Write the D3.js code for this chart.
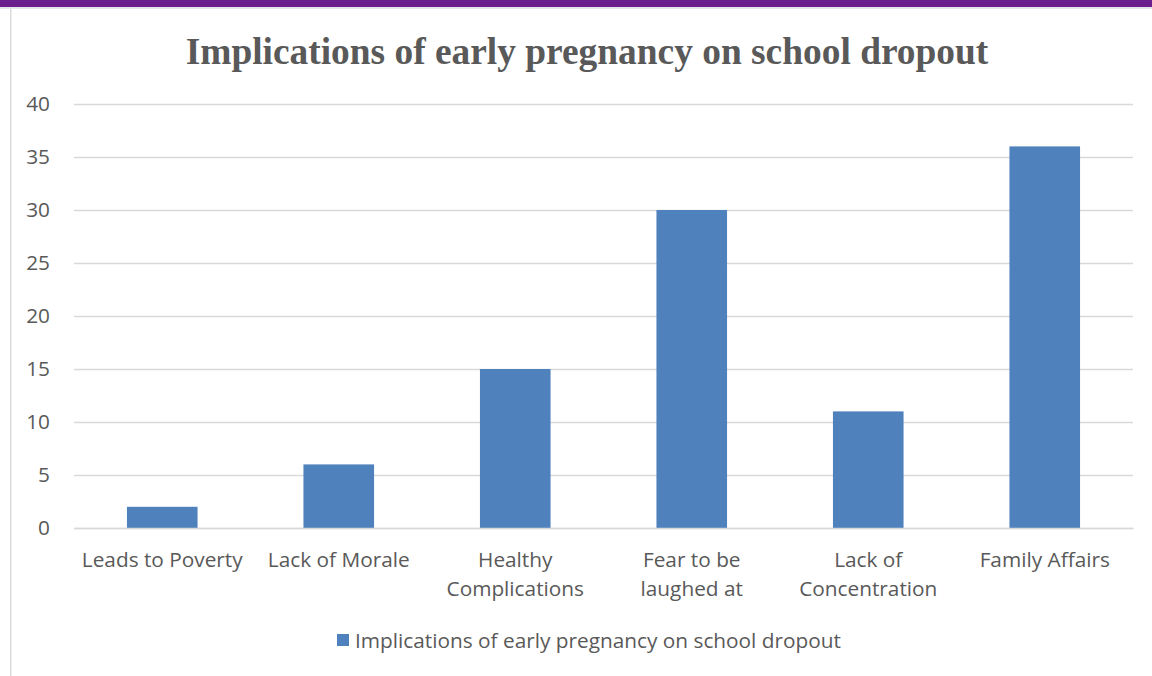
<!DOCTYPE html>
<html>
<head>
<meta charset="utf-8">
<script src="https://cdn.jsdelivr.net/npm/d3@7"></script>
<style>
  html, body { margin: 0; padding: 0; background: #fff; }
  svg { display: block; }
</style>
</head>
<body>
<svg id="chart" width="1152" height="676"></svg>
<script>
const categories = [
  ["Leads to Poverty"],
  ["Lack of Morale"],
  ["Healthy", "Complications"],
  ["Fear to be", "laughed at"],
  ["Lack of", "Concentration"],
  ["Family Affairs"]
];
const values = [2, 6, 15, 30, 11, 36];
const yTicks = [0, 5, 10, 15, 20, 25, 30, 35, 40];
const seriesName = "Implications of early pregnancy on school dropout";
const titleText = "Implications of early pregnancy on school dropout";

const svg = d3.select("#chart");
const W = 1152, H = 676;
const margin = { left: 74, right: 19, top: 104, bottom: 148 };
const textColor = "#595959";
const barColor = "#4f81bd";
const gridColor = "#d9d9d9";
const sans = "'Open Sans', 'Noto Sans', sans-serif";
const fs = 20.8;

// page frame: purple band on top, light border on the left
svg.append("rect").attr("x", 0).attr("y", 0).attr("width", W).attr("height", 7).attr("fill", "#6c1d8e");
svg.append("rect").attr("x", 0).attr("y", 7).attr("width", W).attr("height", 2).attr("fill", "#e4e4ea");
svg.append("rect").attr("x", 10).attr("y", 9).attr("width", 1.5).attr("height", H - 9).attr("fill", "#dcdcdc");

const x = d3.scaleBand()
  .domain(categories.map((d, i) => i))
  .range([margin.left, W - margin.right])
  .paddingInner(0.6)
  .paddingOuter(0.3);

const y = d3.scaleLinear()
  .domain([0, 40])
  .range([H - margin.bottom, margin.top]);

// title
svg.append("text")
  .attr("x", 587).attr("y", 64)
  .attr("text-anchor", "middle")
  .attr("font-family", "'Liberation Serif', 'Times New Roman', serif")
  .attr("font-weight", "bold")
  .attr("font-size", 37.4)
  .attr("fill", textColor)
  .text(titleText);

// horizontal gridlines + y labels
const yAxis = d3.axisLeft(y)
  .tickValues(yTicks)
  .tickSize(-(W - margin.right - margin.left))
  .tickPadding(24);

const gy = svg.append("g")
  .attr("transform", `translate(${margin.left},0)`)
  .call(yAxis);
gy.select(".domain").remove();
gy.selectAll(".tick line").attr("stroke", gridColor).attr("stroke-width", 1.5);
gy.selectAll(".tick text")
  .attr("font-family", sans).attr("font-size", fs).attr("fill", textColor);

// bars
svg.append("g").selectAll("rect")
  .data(values)
  .join("rect")
  .attr("x", (d, i) => x(i))
  .attr("y", d => y(d))
  .attr("width", x.bandwidth())
  .attr("height", d => y(0) - y(d))
  .attr("fill", barColor);

// category labels
const xAxis = d3.axisBottom(x).tickSize(0).tickFormat("");
const gx = svg.append("g")
  .attr("transform", `translate(0,${y(0)})`)
  .call(xAxis);
gx.select(".domain").attr("stroke", gridColor).attr("stroke-width", 1.5);
gx.selectAll(".tick").each(function(d) {
  const t = d3.select(this).append("text")
    .attr("text-anchor", "middle")
    .attr("font-family", sans).attr("font-size", fs)
    .attr("fill", textColor);
  categories[d].forEach((line, k) => {
    t.append("tspan").attr("x", 0).attr("y", 39 + k * 29).text(line);
  });
});

// legend
const leg = svg.append("g").attr("transform", "translate(337,634)");
leg.append("rect").attr("width", 12).attr("height", 12).attr("fill", barColor);
leg.append("text")
  .attr("x", 18).attr("y", 14)
  .attr("font-family", sans).attr("font-size", fs)
  .attr("fill", textColor)
  .text(seriesName);
</script>
</body>
</html>
